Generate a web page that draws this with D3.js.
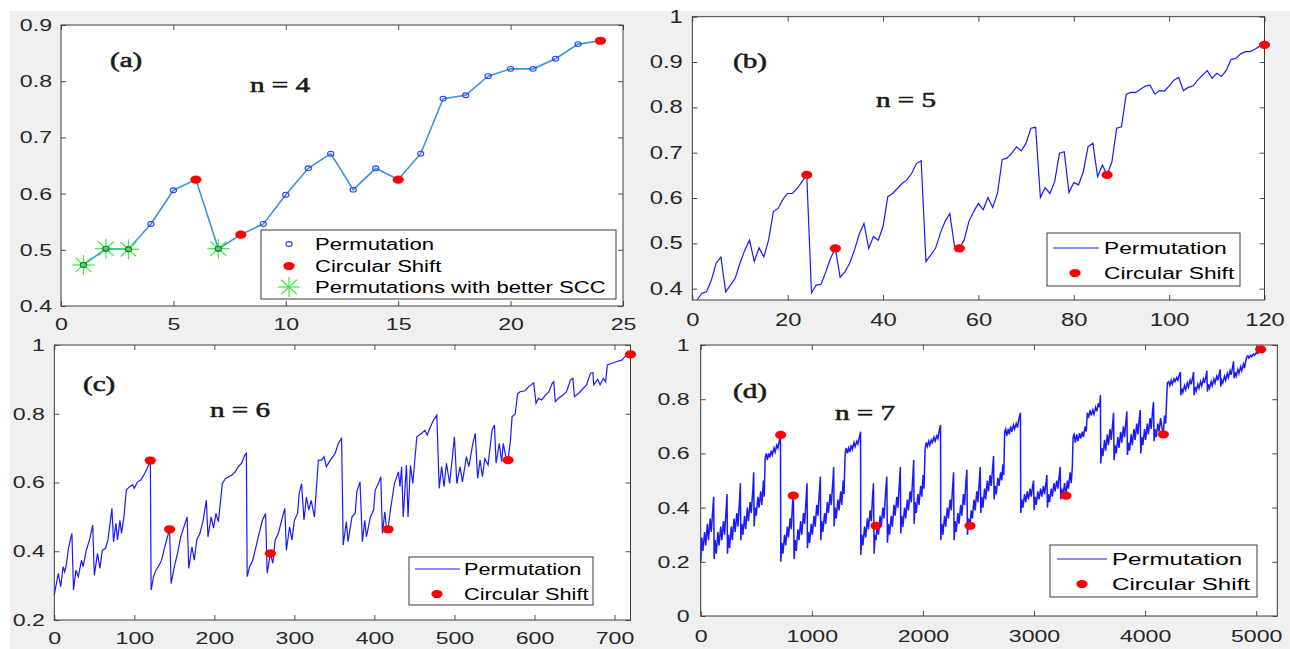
<!DOCTYPE html>
<html><head><meta charset="utf-8">
<script src="https://cdn.jsdelivr.net/npm/d3@7"></script>
<style>body{margin:0;background:#fff;overflow:hidden} svg{display:block}</style>
</head><body>
<svg id="chart" width="1290" height="649"></svg>
<script>
// ---------- DATA ----------
// Panel (a) n = 4 : 24 permutations
const aValues = [0.473,0.502,0.501,0.546,0.606,0.625,0.502,0.527,0.546,0.598,0.645,0.671,
                 0.607,0.645,0.625,0.671,0.769,0.775,0.809,0.822,0.822,0.840,0.866,0.872];
const aCircular = [6,8,15,24];
const aBetter = [1,2,3,7];
const aXTicks = [0,5,10,15,20,25];
const aYTicks = [0.4,0.5,0.6,0.7,0.8,0.9];

// Panel (b) n = 5 : 120 permutations
const bValues = [0.375,0.39,0.393,0.419,0.456,0.47,0.393,0.408,0.423,0.456,0.485,0.507,0.46,0.49,0.47,0.507,0.57,0.577,0.597,0.61,
 0.61,0.621,0.636,0.651,0.391,0.408,0.41,0.437,0.467,0.489,0.425,0.437,0.456,0.485,0.52,0.544,0.489,0.515,0.507,0.537,
 0.603,0.61,0.621,0.632,0.64,0.654,0.676,0.682,0.46,0.474,0.489,0.522,0.548,0.566,0.493,0.489,0.507,0.548,0.57,0.588,
 0.574,0.601,0.579,0.61,0.685,0.688,0.699,0.713,0.704,0.721,0.754,0.756,0.601,0.623,0.61,0.636,0.699,0.702,0.612,0.634,
 0.629,0.658,0.713,0.721,0.647,0.673,0.651,0.68,0.754,0.757,0.829,0.833,0.833,0.84,0.847,0.849,0.829,0.837,0.836,0.847,
 0.86,0.866,0.837,0.844,0.847,0.86,0.871,0.881,0.864,0.875,0.868,0.882,0.906,0.908,0.918,0.923,0.923,0.928,0.935,0.938];
const bCircular = [24,30,56,87,120];
const bXTicks = [0,20,40,60,80,100,120];
const bYTicks = [0.4,0.5,0.6,0.7,0.8,0.9,1];

// Panel (c) n = 6 : vertices [index, value] of the 720-point curve
const cPoints = [[0,0.273],[5,0.336],[8,0.297],[11,0.355],[13,0.34],[15,0.36],[18,0.413],[22,0.452],[24,0.287],[27,0.345],
 [30,0.326],[34,0.374],[36,0.355],[40,0.403],[44,0.433],[48,0.476],[50,0.33],[54,0.394],[57,0.35],[60,0.403],[64,0.408],
 [67,0.433],[70,0.486],[72,0.525],[74,0.428],[77,0.481],[79,0.433],[82,0.49],[84,0.452],[87,0.5],[90,0.578],[94,0.588],
 [98,0.593],[100,0.583],[104,0.602],[108,0.607],[112,0.622],[116,0.641],[120,0.664],[121,0.287],[124,0.326],[127,0.345],
 [130,0.355],[134,0.374],[138,0.413],[144,0.464],[146,0.306],[150,0.355],[154,0.394],[158,0.442],[162,0.471],[166,0.5],
 [168,0.35],[172,0.413],[175,0.374],[178,0.433],[182,0.452],[186,0.49],[190,0.548],[192,0.442],[196,0.5],[199,0.467],
 [202,0.51],[205,0.486],[210,0.597],[214,0.612],[218,0.617],[222,0.622],[226,0.631],[230,0.646],[234,0.656],[238,0.68],
 [240,0.685],[241,0.326],[244,0.355],[248,0.374],[252,0.413],[256,0.452],[260,0.49],[264,0.51],[266,0.336],[270,0.394],
 [273,0.365],[276,0.433],[280,0.452],[284,0.49],[288,0.525],[290,0.403],[294,0.471],[297,0.433],[300,0.49],[304,0.51],
 [306,0.568],[309,0.597],[312,0.49],[315,0.558],[318,0.52],[321,0.548],[325,0.5],[330,0.665],[334,0.665],[337,0.675],
 [340,0.646],[345,0.665],[351,0.685],[355,0.714],[359,0.728],[361,0.418],[365,0.486],[367,0.428],[372,0.5],[376,0.51],
 [378,0.573],[382,0.602],[385,0.428],[388,0.49],[390,0.442],[395,0.5],[399,0.52],[401,0.578],[405,0.597],[408,0.617],
 [410,0.452],[413,0.515],[415,0.47],[417,0.464],[420,0.52],[425,0.597],[430,0.631],[432,0.588],[434,0.646],[436,0.5],
 [440,0.651],[442,0.5],[445,0.65],[448,0.597],[453,0.733],[459,0.743],[463,0.752],[466,0.738],[470,0.762],[474,0.782],
 [478,0.796],[481,0.583],[484,0.646],[487,0.588],[490,0.656],[494,0.597],[500,0.733],[503,0.597],[507,0.646],[510,0.602],
 [515,0.675],[518,0.646],[523,0.714],[526,0.743],[529,0.612],[532,0.665],[535,0.617],[538,0.67],[542,0.651],[547,0.752],
 [550,0.767],[552,0.656],[556,0.714],[559,0.661],[561,0.714],[565,0.665],[567,0.665],[570,0.723],[572,0.791],[576,0.8],
 [579,0.859],[582,0.864],[588,0.867],[593,0.879],[599,0.89],[602,0.83],[605,0.845],[609,0.84],[613,0.852],[618,0.864],
 [622,0.888],[624,0.893],[626,0.835],[630,0.845],[636,0.855],[640,0.864],[645,0.898],[648,0.903],[650,0.85],[655,0.859],
 [661,0.874],[665,0.884],[670,0.918],[673,0.92],[674,0.884],[679,0.9],[682,0.884],[686,0.903],[689,0.893],[691,0.942],
 [697,0.947],[703,0.952],[709,0.956],[713,0.966],[720,0.973]];
const cCircular = [[120,0.664],[144,0.464],[270,0.394],[417,0.464],[567,0.665],[720,0.973]];
const cXTicks = [0,100,200,300,400,500,600,700];
const cYTicks = [0.2,0.4,0.6,0.8,1];

// Panel (d) n = 7 : vertices [index, value] of the 5040-point curve
const dPoints = [
 [0,0.20],[10,0.29],[20,0.24],[35,0.31],[45,0.26],[60,0.34],[70,0.28],[85,0.36],[95,0.31],[110,0.40],[117,0.44],[121,0.21],
 [130,0.28],[140,0.23],[155,0.31],[165,0.26],[180,0.33],[190,0.28],[205,0.35],[215,0.30],[230,0.40],[237,0.45],[241,0.23],
 [250,0.30],[260,0.25],[275,0.33],[285,0.28],[300,0.36],[310,0.31],[325,0.38],[335,0.33],[350,0.43],[357,0.49],[361,0.28],
 [370,0.34],[380,0.30],[395,0.37],[405,0.32],[420,0.40],[430,0.35],[445,0.42],[455,0.38],[470,0.47],[477,0.53],[481,0.33],
 [490,0.40],[500,0.37],[515,0.44],[525,0.40],[540,0.46],[550,0.41],[565,0.50],[572,0.44],[580,0.58],
 [590,0.60],[600,0.575],[612,0.60],[622,0.585],[635,0.61],[645,0.595],[660,0.62],[670,0.605],[685,0.63],[695,0.62],[708,0.645],[718,0.668],
 [721,0.20],[730,0.27],[740,0.23],[755,0.30],[765,0.26],[780,0.33],[790,0.29],[805,0.36],[815,0.32],[826,0.41],[834,0.444],[841,0.21],
 [850,0.28],[860,0.24],[875,0.32],[885,0.28],[900,0.35],[910,0.30],[925,0.38],[935,0.34],[950,0.44],[957,0.49],[961,0.25],
 [970,0.31],[980,0.27],[995,0.34],[1005,0.30],[1020,0.37],[1030,0.33],[1045,0.41],[1055,0.37],[1070,0.47],[1077,0.515],[1081,0.28],
 [1090,0.35],[1100,0.31],[1115,0.38],[1125,0.34],[1140,0.42],[1150,0.38],[1165,0.45],[1175,0.41],[1190,0.50],[1197,0.55],[1201,0.33],
 [1210,0.40],[1220,0.36],[1235,0.43],[1245,0.39],[1260,0.46],[1270,0.41],[1282,0.50],[1290,0.45],[1300,0.60],
 [1310,0.62],[1320,0.60],[1332,0.62],[1342,0.605],[1355,0.63],[1365,0.615],[1380,0.64],[1390,0.625],[1405,0.645],[1415,0.635],[1428,0.66],[1439,0.68],
 [1441,0.225],[1450,0.30],[1460,0.26],[1475,0.33],[1485,0.29],[1500,0.36],[1510,0.32],[1525,0.39],[1535,0.35],[1548,0.45],[1555,0.49],[1561,0.23],
 [1570,0.30],[1578,0.28],[1590,0.34],[1600,0.30],[1615,0.37],[1625,0.33],[1640,0.40],[1650,0.36],[1665,0.46],[1675,0.515],[1681,0.27],
 [1690,0.34],[1700,0.30],[1715,0.37],[1725,0.33],[1740,0.41],[1750,0.37],[1765,0.44],[1775,0.40],[1790,0.50],[1797,0.55],[1801,0.305],
 [1810,0.37],[1820,0.33],[1835,0.40],[1845,0.36],[1860,0.43],[1870,0.39],[1885,0.46],[1895,0.42],[1910,0.52],[1917,0.576],[1921,0.34],
 [1930,0.42],[1940,0.38],[1955,0.45],[1965,0.41],[1980,0.48],[1990,0.44],[2002,0.52],[2010,0.47],[2020,0.62],
 [2030,0.64],[2040,0.625],[2052,0.645],[2062,0.63],[2075,0.65],[2085,0.64],[2100,0.66],[2110,0.645],[2125,0.665],[2135,0.655],[2148,0.685],[2159,0.705],
 [2161,0.28],[2170,0.34],[2180,0.30],[2195,0.37],[2205,0.33],[2220,0.40],[2230,0.36],[2245,0.43],[2255,0.39],[2268,0.48],[2276,0.53],[2281,0.28],
 [2290,0.35],[2300,0.31],[2315,0.38],[2325,0.34],[2340,0.41],[2350,0.37],[2365,0.45],[2375,0.41],[2388,0.50],[2396,0.54],[2401,0.30],
 [2410,0.36],[2424,0.333],[2435,0.39],[2445,0.36],[2460,0.43],[2470,0.39],[2485,0.46],[2495,0.42],[2508,0.50],[2516,0.55],[2521,0.38],
 [2530,0.44],[2540,0.40],[2555,0.47],[2565,0.43],[2580,0.50],[2590,0.46],[2605,0.52],[2615,0.48],[2628,0.55],[2636,0.59],[2641,0.43],
 [2650,0.48],[2660,0.45],[2675,0.51],[2685,0.48],[2700,0.53],[2710,0.50],[2720,0.56],[2728,0.52],[2736,0.68],
 [2745,0.69],[2755,0.665],[2768,0.69],[2778,0.67],[2790,0.70],[2800,0.68],[2815,0.705],[2825,0.69],[2840,0.71],[2850,0.695],[2866,0.73],[2878,0.75],
 [2881,0.38],[2890,0.43],[2900,0.40],[2915,0.45],[2925,0.42],[2940,0.46],[2950,0.43],[2965,0.47],[2975,0.44],[2988,0.48],[2996,0.50],[3001,0.39],
 [3010,0.44],[3020,0.41],[3035,0.46],[3045,0.43],[3060,0.47],[3070,0.44],[3085,0.48],[3095,0.45],[3108,0.49],[3116,0.52],[3121,0.40],
 [3130,0.45],[3140,0.42],[3155,0.47],[3165,0.44],[3180,0.49],[3190,0.46],[3205,0.50],[3215,0.47],[3228,0.52],[3236,0.55],[3241,0.43],
 [3250,0.47],[3260,0.44],[3275,0.49],[3288,0.444],[3300,0.50],[3310,0.47],[3325,0.53],[3335,0.49],[3345,0.55],[3352,0.66],
 [3362,0.67],[3372,0.64],[3385,0.67],[3395,0.645],[3410,0.675],[3420,0.655],[3435,0.68],[3445,0.66],[3460,0.70],[3470,0.68],[3480,0.75],
 [3490,0.73],[3505,0.76],[3515,0.74],[3530,0.76],[3540,0.745],[3555,0.77],[3565,0.755],[3580,0.785],[3590,0.77],[3598,0.815],
 [3601,0.563],[3610,0.62],[3620,0.59],[3635,0.65],[3645,0.61],[3660,0.67],[3670,0.63],[3685,0.69],[3695,0.65],[3708,0.71],[3716,0.75],[3721,0.575],
 [3730,0.63],[3740,0.60],[3755,0.66],[3765,0.62],[3780,0.68],[3790,0.64],[3805,0.70],[3815,0.66],[3828,0.72],[3836,0.755],[3841,0.594],
 [3850,0.64],[3860,0.61],[3875,0.67],[3885,0.63],[3900,0.69],[3910,0.65],[3925,0.71],[3935,0.67],[3948,0.73],[3956,0.76],[3961,0.60],
 [3970,0.66],[3980,0.63],[3995,0.69],[4005,0.65],[4020,0.71],[4030,0.67],[4045,0.73],[4055,0.69],[4068,0.76],[4076,0.79],[4081,0.645],
 [4090,0.69],[4100,0.66],[4115,0.71],[4125,0.68],[4140,0.73],[4150,0.70],[4164,0.67],[4175,0.74],[4185,0.71],[4192,0.78],[4200,0.86],
 [4212,0.865],[4222,0.85],[4235,0.87],[4245,0.855],[4260,0.875],[4270,0.865],[4285,0.88],[4295,0.87],[4308,0.89],[4318,0.90],
 [4321,0.815],[4330,0.84],[4340,0.825],[4355,0.85],[4365,0.835],[4380,0.86],[4390,0.845],[4405,0.87],[4415,0.855],[4428,0.88],[4436,0.90],[4441,0.815],
 [4450,0.845],[4460,0.83],[4475,0.855],[4485,0.84],[4500,0.865],[4510,0.85],[4525,0.875],[4535,0.86],[4548,0.885],[4556,0.905],[4561,0.828],
 [4570,0.855],[4580,0.84],[4595,0.865],[4605,0.85],[4620,0.875],[4630,0.86],[4645,0.885],[4655,0.87],[4668,0.895],[4676,0.91],[4681,0.846],
 [4690,0.87],[4700,0.86],[4715,0.885],[4725,0.87],[4740,0.895],[4750,0.88],[4765,0.905],[4775,0.89],[4788,0.92],[4796,0.94],[4801,0.877],
 [4810,0.90],[4820,0.885],[4835,0.91],[4845,0.895],[4860,0.92],[4870,0.905],[4885,0.93],[4895,0.915],[4905,0.94],[4915,0.955],
 [4925,0.96],[4935,0.952],[4950,0.962],[4960,0.957],[4975,0.967],[4985,0.962],[5000,0.972],[5010,0.968],[5025,0.977],[5040,0.984]];
const dCircular = [[720,0.668],[834,0.444],[1578,0.333],[2424,0.333],[3288,0.444],[4164,0.67],[5040,0.984]];
const dXTicks = [0,1000,2000,3000,4000,5000];
const dYTicks = [0,0.2,0.4,0.6,0.8,1];

const legendLabels = ["Permutation","Circular Shift","Permutations with better SCC"];
const panelLabels = ["(a)","(b)","(c)","(d)"];
const nLabels = ["n = 4","n = 5","n = 6","n = 7"];

// ---------- DRAWING ----------
const svg = d3.select("#chart");
svg.append("rect").attr("x",10).attr("y",11).attr("width",1280).attr("height",638).attr("fill","#f0f0f0");

const SX = 1.36;           // horizontal stretch of the reference picture
const AX = "#3a3a3a";
const SANS = "'Liberation Sans', Arial, Helvetica, sans-serif";
const SERIF = "'Liberation Serif', 'Times New Roman', serif";

function sText(g, x, y, str, o) {
  const t = g.append("text")
    .attr("transform", `translate(${x},${y}) scale(${o.sx||SX},1)`)
    .attr("text-anchor", o.anchor || "start")
    .attr("font-family", o.family || SANS)
    .attr("font-size", o.size || 17)
    .attr("font-weight", o.weight || "normal")
    .attr("fill", o.fill || "#262626")
    .text(str);
  if (o.thick) t.attr("stroke", o.fill || "#262626").attr("stroke-width", o.thick);
  return t;
}

function makePanel(cfg) {
  const g = svg.append("g");
  const x = d3.scaleLinear().domain(cfg.xDomain).range([cfg.left, cfg.right]);
  const y = d3.scaleLinear().domain(cfg.yDomain).range([cfg.bottom, cfg.top]);
  g.append("rect").attr("x",cfg.left).attr("y",cfg.top)
    .attr("width",cfg.right-cfg.left).attr("height",cfg.bottom-cfg.top).attr("fill","#fff");

  const fmt = d => (d === 0 || d === 1) ? String(d) : (Number.isInteger(d) ? String(d) : d3.format(".1f")(d));
  const styleAxis = (sel) => {
    sel.selectAll("path.domain").remove();
    sel.selectAll(".tick line").attr("stroke", AX).attr("stroke-width", 0.9);
    sel.selectAll(".tick text").attr("fill","#262626").attr("font-family",SANS).attr("font-size",cfg.tickSize||17)
      .each(function(){
        const t = d3.select(this);
        const tx = +t.attr("x") || 0, ty = +t.attr("y") || 0;
        t.attr("x",null).attr("y",null).attr("transform",`translate(${tx},${ty}) scale(${SX},1)`);
      });
  };
  const gl = g.append("g").attr("transform",`translate(${cfg.left},0)`)
    .call(d3.axisLeft(y).tickValues(cfg.yTicks).tickFormat(fmt).tickSizeInner(-5).tickSizeOuter(0).tickPadding(cfg.yPad));
  styleAxis(gl);
  const gb = g.append("g").attr("transform",`translate(0,${cfg.bottom})`)
    .call(d3.axisBottom(x).tickValues(cfg.xTicks).tickFormat(fmt).tickSizeInner(-5).tickSizeOuter(0).tickPadding(cfg.xPad));
  styleAxis(gb);
  const gr = g.append("g").attr("transform",`translate(${cfg.right},0)`)
    .call(d3.axisRight(y).tickValues(cfg.yTicks).tickFormat("").tickSizeInner(-5).tickSizeOuter(0));
  styleAxis(gr);
  const gt = g.append("g").attr("transform",`translate(0,${cfg.top})`)
    .call(d3.axisTop(x).tickValues(cfg.xTicks).tickFormat("").tickSizeInner(-5).tickSizeOuter(0));
  styleAxis(gt);
  g.append("rect").attr("x",cfg.left).attr("y",cfg.top)
    .attr("width",cfg.right-cfg.left).attr("height",cfg.bottom-cfg.top)
    .attr("fill","none").attr("stroke",AX).attr("stroke-width",1);
  return {g, x, y};
}

function redDot(g, cx, cy) {
  g.append("ellipse").attr("cx",cx).attr("cy",cy).attr("rx",5.6).attr("ry",4.1).attr("fill","#ff0000");
}
function star(g, cx, cy) {
  const rx = 11, ry = 10, d = 0.72;
  const segs = [[-rx,0,rx,0],[0,-ry,0,ry],[-rx*d,-ry*d,rx*d,ry*d],[-rx*d,ry*d,rx*d,-ry*d]];
  segs.forEach(s => g.append("line").attr("x1",cx+s[0]).attr("y1",cy+s[1]).attr("x2",cx+s[2]).attr("y2",cy+s[3])
    .attr("stroke","#3ee83e").attr("stroke-width",1.2));
}
function legendBox(g, x0, y0, x1, y1) {
  g.append("rect").attr("x",x0).attr("y",y0).attr("width",x1-x0).attr("height",y1-y0)
    .attr("fill","#fff").attr("stroke","#3a3a3a").attr("stroke-width",1);
}
const titleOpts = {family:SERIF, size:20.5, weight:"normal", sx:1.42, fill:"#1a1a1a", thick:0.55};

// ----- Panel (a) -----
{
  const P = makePanel({id:"a", left:61, right:623, top:25, bottom:306, xDomain:[0,25], yDomain:[0.4,0.9],
    xTicks:aXTicks, yTicks:aYTicks, yPad:9, xPad:12});
  const {g,x,y} = P;
  const pts = aValues.map((v,i)=>[i+1,v]);
  g.append("path").datum(pts).attr("fill","none").attr("stroke","#3d93d6").attr("stroke-width",1.6)
    .attr("d", d3.line().x(d=>x(d[0])).y(d=>y(d[1])));
  pts.forEach(p => g.append("ellipse").attr("cx",x(p[0])).attr("cy",y(p[1])).attr("rx",3.1).attr("ry",2.4)
    .attr("fill","none").attr("stroke","#2a3cff").attr("stroke-width",1.1));
  aCircular.forEach(i => redDot(g, x(i), y(aValues[i-1])));
  aBetter.forEach(i => star(g, x(i), y(aValues[i-1])));
  aBetter.forEach(i => g.append("ellipse").attr("cx",x(i)).attr("cy",y(aValues[i-1])).attr("rx",3.1).attr("ry",2.4)
    .attr("fill","none").attr("stroke","#1c7a3a").attr("stroke-width",1.1));
  legendBox(g, 261, 230, 616, 299);
  g.append("ellipse").attr("cx",289).attr("cy",244).attr("rx",3.1).attr("ry",2.4).attr("fill","none").attr("stroke","#2a3cff").attr("stroke-width",1.1);
  redDot(g, 289, 266);
  star(g, 289, 287);
  sText(g, 315, 250, legendLabels[0], {size:16, sx:1.38, fill:"#000"});
  sText(g, 315, 272, legendLabels[1], {size:16, sx:1.38, fill:"#000"});
  sText(g, 315, 293, legendLabels[2], {size:16, sx:1.38, fill:"#000"});
  sText(g, 110, 66.5, panelLabels[0], titleOpts);
  sText(g, 250, 92, nLabels[0], titleOpts);
}

// ----- Panel (b) -----
{
  const P = makePanel({id:"b", left:692.3, right:1264.5, top:16.7, bottom:300, xDomain:[0,120], yDomain:[0.375,1],
    xTicks:bXTicks, yTicks:bYTicks, yPad:9.5, xPad:14, tickSize:17.5});
  const {g,x,y} = P;
  const pts = bValues.map((v,i)=>[i+1,v]);
  g.append("path").datum(pts).attr("fill","none").attr("stroke","#1a1aff").attr("stroke-width",1.2)
    .attr("d", d3.line().x(d=>x(d[0])).y(d=>y(d[1])));
  bCircular.forEach(i => redDot(g, x(i), y(bValues[i-1])));
  legendBox(g, 1047, 233, 1240, 286);
  g.append("line").attr("x1",1053).attr("x2",1099).attr("y1",248).attr("y2",248).attr("stroke","#1a1aff").attr("stroke-width",1.2);
  redDot(g, 1075, 273);
  sText(g, 1104, 254, legendLabels[0], {size:17, sx:1.34, fill:"#000"});
  sText(g, 1104, 279, legendLabels[1], {size:17, sx:1.34, fill:"#000"});
  sText(g, 733, 68, panelLabels[1], titleOpts);
  sText(g, 876, 107, nLabels[1], titleOpts);
}

// ----- Panel (c) -----
{
  const P = makePanel({id:"c", left:54.3, right:630.5, top:345, bottom:620, xDomain:[0,720], yDomain:[0.2,1],
    xTicks:cXTicks, yTicks:cYTicks, yPad:9.5, xPad:12, tickSize:17});
  const {g,x,y} = P;
  g.append("path").datum(cPoints).attr("fill","none").attr("stroke","#1a1aff").attr("stroke-width",1.2)
    .attr("d", d3.line().x(d=>x(d[0])).y(d=>y(d[1])));
  cCircular.forEach(p => redDot(g, x(p[0]), y(p[1])));
  legendBox(g, 409, 557, 593, 605);
  g.append("line").attr("x1",415).attr("x2",460).attr("y1",569).attr("y2",569).attr("stroke","#1a1aff").attr("stroke-width",1.2);
  redDot(g, 437, 594);
  sText(g, 464, 575, legendLabels[0], {size:17, sx:1.28, fill:"#000"});
  sText(g, 464, 600, legendLabels[1], {size:17, sx:1.28, fill:"#000"});
  sText(g, 83, 391, panelLabels[2], titleOpts);
  sText(g, 210, 417, nLabels[2], titleOpts);
}

// ----- Panel (d) -----
{
  const P = makePanel({id:"d", left:700.7, right:1277.3, top:345, bottom:616, xDomain:[0,5190], yDomain:[0,1],
    xTicks:dXTicks, yTicks:dYTicks, yPad:11, xPad:14, tickSize:17});
  const {g,x,y} = P;
  g.append("path").datum(dPoints).attr("fill","none").attr("stroke","#1a1aff").attr("stroke-width",1.5)
    .attr("d", d3.line().x(d=>x(d[0])).y(d=>y(d[1])));
  dCircular.forEach(p => redDot(g, x(p[0]), y(p[1])));
  legendBox(g, 1050, 545, 1257, 597);
  g.append("line").attr("x1",1057).attr("x2",1107).attr("y1",559).attr("y2",559).attr("stroke","#1a1aff").attr("stroke-width",1.2);
  redDot(g, 1082, 584);
  sText(g, 1112, 565, legendLabels[0], {size:17, sx:1.42, fill:"#000"});
  sText(g, 1112, 590, legendLabels[1], {size:17, sx:1.42, fill:"#000"});
  sText(g, 733, 398, panelLabels[3], titleOpts);
  sText(g, 835, 420, nLabels[3], titleOpts);
}
</script>
</body></html>
